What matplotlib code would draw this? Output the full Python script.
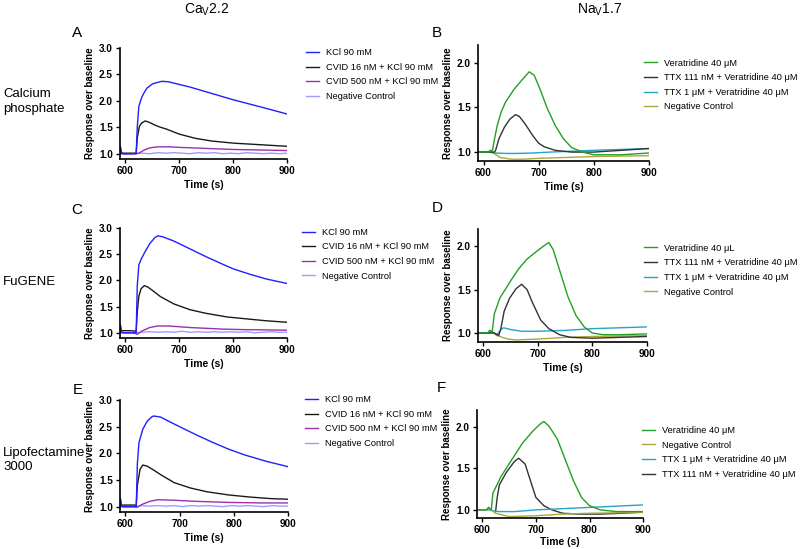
import matplotlib
matplotlib.use("Agg")
import matplotlib.pyplot as plt

plt.rcParams['font.family'] = ['Liberation Sans', 'DejaVu Sans']
plt.rcParams['mathtext.fontset'] = 'custom'
plt.rcParams['mathtext.rm'] = 'Liberation Sans'

# ---- Ca_V2.2 panels (A, C, E) ----
ca_labels = ['KCl 90 mM', 'CVID 16 nM + KCl 90 mM', 'CVID 500 nM + KCl 90 mM', 'Negative Control']
ca_colors = ['#1f1fff', '#1a1a1a', '#9b2fae', '#9d9dff']

# panel A
a_kcl_t = [590, 591, 593, 596, 600, 610, 620, 622, 625, 630, 635, 640, 650, 660, 668, 680, 700, 720, 750, 780, 800, 830, 860, 900]
a_kcl_v = [1.00, 1.13, 1.02, 1.00, 1.00, 1.00, 1.00, 1.50, 1.90, 2.06, 2.16, 2.24, 2.32, 2.35, 2.37, 2.36, 2.31, 2.26, 2.17, 2.08, 2.02, 1.94, 1.86, 1.75]
a_c16_t = [590, 600, 610, 620, 622, 626, 630, 637, 645, 655, 665, 675, 690, 700, 715, 730, 760, 800, 850, 900]
a_c16_v = [1.01, 1.01, 1.01, 1.01, 1.30, 1.52, 1.58, 1.62, 1.59, 1.54, 1.50, 1.47, 1.41, 1.37, 1.33, 1.29, 1.24, 1.20, 1.17, 1.14]
a_c500_t = [590, 600, 620, 625, 635, 645, 660, 680, 700, 750, 800, 850, 900]
a_c500_v = [1.00, 1.00, 1.00, 1.01, 1.07, 1.11, 1.13, 1.13, 1.12, 1.10, 1.08, 1.07, 1.06]
a_neg_t = [590, 600, 615, 630, 645, 660, 675, 690, 705, 720, 735, 750, 765, 780, 795, 810, 825, 840, 855, 870, 885, 900]
a_neg_v = [1.00, 0.99, 1.00, 1.01, 1.00, 1.02, 1.01, 1.02, 1.01, 1.00, 1.02, 1.01, 1.02, 1.00, 1.01, 1.00, 1.02, 1.01, 1.00, 1.01, 1.00, 1.01]

# panel C
c_kcl_t = [590, 591, 593, 596, 600, 610, 620, 622, 625, 630, 635, 645, 655, 660, 670, 690, 720, 750, 780, 800, 830, 860, 900]
c_kcl_v = [1.00, 1.15, 1.02, 1.00, 1.00, 1.00, 1.00, 1.90, 2.30, 2.42, 2.52, 2.70, 2.82, 2.85, 2.83, 2.75, 2.60, 2.45, 2.31, 2.22, 2.12, 2.03, 1.94]
c_c16_t = [590, 600, 610, 620, 622, 625, 629, 635, 642, 650, 665, 690, 720, 750, 790, 820, 860, 900]
c_c16_v = [1.04, 1.04, 1.04, 1.03, 1.40, 1.70, 1.84, 1.90, 1.87, 1.81, 1.69, 1.55, 1.44, 1.37, 1.30, 1.27, 1.23, 1.20]
c_c500_t = [590, 600, 615, 622, 630, 645, 660, 680, 720, 780, 820, 900]
c_c500_v = [1.00, 1.00, 1.00, 0.97, 1.03, 1.10, 1.13, 1.13, 1.10, 1.07, 1.06, 1.05]
c_neg_t = [590, 600, 615, 630, 645, 660, 675, 690, 705, 720, 735, 750, 765, 780, 795, 810, 825, 840, 855, 870, 885, 900]
c_neg_v = [1.00, 1.00, 1.00, 1.01, 1.02, 1.01, 1.02, 1.01, 1.03, 1.01, 1.02, 1.01, 1.02, 1.01, 1.02, 1.01, 1.02, 1.00, 1.01, 1.02, 1.01, 1.01]

# panel E
e_kcl_t = [590, 591, 593, 596, 600, 610, 620, 622, 625, 632, 640, 648, 652, 665, 680, 700, 730, 760, 790, 820, 860, 900]
e_kcl_v = [1.00, 1.15, 1.02, 1.00, 1.00, 1.00, 1.00, 1.80, 2.20, 2.45, 2.60, 2.68, 2.70, 2.68, 2.60, 2.50, 2.35, 2.21, 2.08, 1.97, 1.85, 1.75]
e_c16_t = [590, 600, 610, 620, 622, 627, 632, 640, 650, 665, 690, 720, 750, 790, 830, 870, 900]
e_c16_v = [1.03, 1.03, 1.03, 1.03, 1.40, 1.70, 1.78, 1.76, 1.70, 1.60, 1.45, 1.35, 1.28, 1.22, 1.18, 1.15, 1.14]
e_c500_t = [590, 600, 615, 622, 630, 645, 660, 690, 730, 790, 850, 900]
e_c500_v = [1.00, 1.00, 1.00, 0.99, 1.04, 1.10, 1.13, 1.12, 1.10, 1.08, 1.07, 1.07]
e_neg_t = [590, 600, 615, 630, 645, 660, 675, 690, 705, 720, 735, 750, 765, 780, 795, 810, 825, 840, 855, 870, 885, 900]
e_neg_v = [1.00, 1.00, 1.00, 1.02, 1.01, 1.02, 1.01, 1.02, 1.00, 1.02, 1.01, 1.02, 1.01, 1.00, 1.02, 1.01, 1.02, 1.01, 1.00, 1.02, 1.01, 1.01]

# ---- Na_V1.7 panels (B, D, F) ----
na_colors = {'ver': '#22a022', 'ttx111': '#333333', 'ttx1': '#25a3c8', 'neg': '#aaa83c'}

# panel B
b_ver_t = [590, 600, 610, 612, 616, 620, 625, 632, 640, 655, 670, 683, 692, 703, 715, 730, 745, 760, 780, 800, 850, 900]
b_ver_v = [1.00, 1.00, 1.00, 1.02, 1.01, 1.15, 1.30, 1.45, 1.56, 1.70, 1.81, 1.90, 1.86, 1.70, 1.50, 1.30, 1.15, 1.05, 1.00, 0.97, 0.97, 0.99]
b_111_t = [590, 600, 610, 620, 622, 628, 638, 648, 658, 665, 675, 690, 700, 710, 730, 760, 800, 850, 900]
b_111_v = [1.00, 1.00, 1.00, 1.00, 1.02, 1.15, 1.28, 1.37, 1.42, 1.40, 1.32, 1.18, 1.10, 1.06, 1.02, 1.00, 1.00, 1.02, 1.04]
b_1_t = [590, 600, 610, 620, 640, 660, 690, 720, 760, 800, 850, 900]
b_1_v = [1.00, 1.00, 1.00, 0.99, 0.985, 0.985, 0.99, 1.00, 1.01, 1.02, 1.03, 1.04]
b_neg_t = [590, 600, 608, 612, 618, 630, 650, 670, 700, 750, 800, 850, 900]
b_neg_v = [1.00, 1.00, 1.00, 1.02, 0.99, 0.94, 0.92, 0.92, 0.93, 0.94, 0.95, 0.955, 0.96]

# panel D
d_ver_t = [590, 600, 608, 612, 616, 620, 630, 650, 665, 680, 700, 715, 720, 728, 735, 745, 755, 770, 785, 800, 820, 850, 900]
d_ver_v = [1.00, 1.00, 1.00, 1.03, 1.01, 1.22, 1.40, 1.60, 1.74, 1.85, 1.95, 2.02, 2.04, 1.96, 1.82, 1.62, 1.42, 1.20, 1.07, 1.00, 0.98, 0.98, 0.99]
d_111_t = [590, 600, 610, 620, 628, 632, 638, 648, 660, 670, 680, 690, 705, 720, 740, 760, 800, 850, 900]
d_111_v = [1.00, 1.00, 1.00, 1.00, 0.97, 1.05, 1.25, 1.40, 1.51, 1.56, 1.50, 1.35, 1.15, 1.05, 0.98, 0.95, 0.94, 0.95, 0.96]
d_1_t = [590, 600, 610, 617, 625, 632, 637, 650, 670, 700, 750, 800, 850, 900]
d_1_v = [1.00, 1.00, 1.00, 1.01, 0.98, 1.04, 1.06, 1.04, 1.02, 1.02, 1.03, 1.05, 1.06, 1.07]
d_neg_t = [590, 600, 608, 612, 618, 625, 645, 660, 700, 750, 800, 850, 900]
d_neg_v = [1.00, 1.00, 1.00, 1.03, 1.00, 0.97, 0.93, 0.92, 0.93, 0.95, 0.96, 0.965, 0.97]

# panel F
f_ver_t = [590, 600, 608, 612, 617, 620, 635, 655, 675, 695, 710, 715, 725, 740, 755, 770, 785, 800, 820, 850, 900]
f_ver_v = [1.00, 1.00, 1.00, 1.03, 1.00, 1.20, 1.40, 1.60, 1.80, 1.95, 2.04, 2.06, 2.00, 1.85, 1.60, 1.35, 1.15, 1.05, 1.00, 0.98, 0.98]
f_111_t = [625, 628, 632, 645, 660, 668, 680, 690, 700, 715, 730, 750, 780, 820, 860, 890]
f_111_v = [0.98, 1.15, 1.30, 1.45, 1.58, 1.62, 1.55, 1.35, 1.15, 1.05, 1.00, 0.96, 0.95, 0.95, 0.96, 0.97]
f_1_t = [590, 600, 612, 630, 660, 700, 750, 800, 850, 900]
f_1_v = [1.00, 1.00, 1.00, 0.98, 0.98, 1.00, 1.015, 1.03, 1.045, 1.06]
f_neg_t = [590, 600, 608, 612, 618, 625, 650, 700, 750, 800, 850, 900]
f_neg_v = [1.00, 1.00, 1.00, 1.03, 0.99, 0.96, 0.92, 0.93, 0.95, 0.96, 0.965, 0.97]

fig = plt.figure(figsize=(8, 5.49), dpi=100)

LEG_FS = 6.7


def style(ax, ylim, yticks, xpad=3):
    ax.set_xlim(590, 900)
    ax.set_ylim(*ylim)
    ax.set_xticks([600, 700, 800, 900])
    ax.set_yticks(yticks)
    ax.set_yticklabels(['%.1f' % y for y in yticks])
    for s in ['top', 'right']:
        ax.spines[s].set_visible(False)
    for s in ['left', 'bottom']:
        ax.spines[s].set_linewidth(1.2)
    ax.tick_params(labelsize=7.2, width=1.0, length=3, pad=2)
    for lab in ax.get_xticklabels() + ax.get_yticklabels():
        lab.set_fontweight('bold')
    ax.set_ylabel('Response over baseline', fontsize=7, fontweight='bold', labelpad=3)
    ax.set_xlabel('Time (s)', fontsize=7.5, fontweight='bold', labelpad=xpad)


def add_legend(ax, handles, labels, anchor):
    ax.legend(handles, labels, loc='upper left', bbox_to_anchor=anchor, bbox_transform=fig.transFigure,
              frameon=False, fontsize=LEG_FS, handlelength=1.4, handletextpad=0.75, labelspacing=0.6,
              borderpad=0, borderaxespad=0)


ca_panels = [
    ([0.150, 0.7104, 0.209, 0.2022], (a_kcl_t, a_kcl_v, a_c16_t, a_c16_v, a_c500_t, a_c500_v, a_neg_t, a_neg_v), (0.383, 0.912)),
    ([0.150, 0.3843, 0.209, 0.2004], (c_kcl_t, c_kcl_v, c_c16_t, c_c16_v, c_c500_t, c_c500_v, c_neg_t, c_neg_v), (0.377, 0.585)),
    ([0.150, 0.0674, 0.210, 0.2040], (e_kcl_t, e_kcl_v, e_c16_t, e_c16_v, e_c500_t, e_c500_v, e_neg_t, e_neg_v), (0.381, 0.280)),
]
for rect, d, leg in ca_panels:
    ax = fig.add_axes(rect)
    lines = [None] * 4
    for i in [3, 2, 1, 0]:
        lines[i], = ax.plot(d[2 * i], d[2 * i + 1], color=ca_colors[i], lw=1.0)
    style(ax, (0.9, 3.0), [1.0, 1.5, 2.0, 2.5, 3.0])
    add_legend(ax, lines, ca_labels, leg)

lab_ver = 'Veratridine 40 μM'
lab_111 = 'TTX 111 nM + Veratridine 40 μM'
lab_1 = 'TTX 1 μM + Veratridine 40 μM'
lab_neg = 'Negative Control'

na_panels = [
    ([0.5975, 0.7067, 0.2135, 0.2113], [(b_ver_t, b_ver_v, 'ver', lab_ver), (b_111_t, b_111_v, 'ttx111', lab_111),
                                        (b_1_t, b_1_v, 'ttx1', lab_1), (b_neg_t, b_neg_v, 'neg', lab_neg)], (0.805, 0.893), 3),
    ([0.5975, 0.3776, 0.2110, 0.2060], [(d_ver_t, d_ver_v, 'ver', 'Veratridine 40 μL'), (d_111_t, d_111_v, 'ttx111', lab_111),
                                        (d_1_t, d_1_v, 'ttx1', lab_1), (d_neg_t, d_neg_v, 'neg', lab_neg)], (0.805, 0.556), 3),
    ([0.5960, 0.0560, 0.2080, 0.1975], [(f_ver_t, f_ver_v, 'ver', lab_ver), (f_neg_t, f_neg_v, 'neg', lab_neg),
                                        (f_1_t, f_1_v, 'ttx1', lab_1), (f_111_t, f_111_v, 'ttx111', lab_111)], (0.803, 0.224), 1),
]
for rect, series, leg, xpad in na_panels:
    ax = fig.add_axes(rect)
    handles = {}
    for t, v, key, lab in reversed(series):
        handles[lab], = ax.plot(t, v, color=na_colors[key], lw=1.0)
    style(ax, (0.9, 2.2), [1.0, 1.5, 2.0], xpad)
    add_legend(ax, [handles[s[3]] for s in series], [s[3] for s in series], leg)

# column titles
fig.text(0.259, 0.982, r'Ca$_{\mathregular{V}}$2.2', fontsize=10, ha='center', va='center')
fig.text(0.750, 0.982, r'Na$_{\mathregular{V}}$1.7', fontsize=10, ha='center', va='center')

# row labels
fig.text(0.004, 0.815, 'Calcium\nphosphate', fontsize=9.5, ha='left', va='center', linespacing=1.25)
fig.text(0.004, 0.486, 'FuGENE', fontsize=9.5, ha='left', va='center')
fig.text(0.004, 0.162, 'Lipofectamine\n3000', fontsize=9.5, ha='left', va='center', linespacing=1.25)

# panel letters
for x, y, s in [(0.096, 0.940, 'A'), (0.546, 0.940, 'B'), (0.096, 0.617, 'C'),
                (0.547, 0.621, 'D'), (0.097, 0.290, 'E'), (0.552, 0.293, 'F')]:
    fig.text(x, y, s, fontsize=11, ha='center', va='center')

fig.savefig('out.png', dpi=100)
